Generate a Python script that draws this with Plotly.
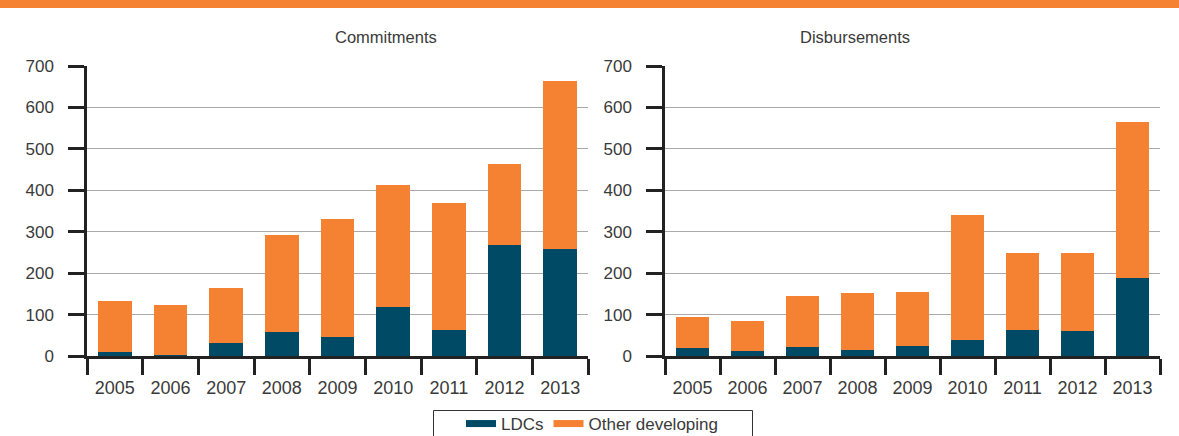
import plotly.graph_objects as go

years = ["2005", "2006", "2007", "2008", "2009", "2010", "2011", "2012", "2013"]

commit_total = [133, 124, 165, 291, 330, 412, 369, 463, 665]
commit_ldc = [10, 2, 31, 58, 46, 119, 63, 269, 259]

disb_total = [94, 85, 146, 153, 155, 340, 248, 248, 564]
disb_ldc = [19, 11, 21, 14, 24, 38, 63, 60, 189]

commit_other = [t - l for t, l in zip(commit_total, commit_ldc)]
disb_other = [t - l for t, l in zip(disb_total, disb_ldc)]

LDC_COLOR = "#004A65"
OTHER_COLOR = "#F58233"
TEXT = "#3a3a3a"
FONT = "Liberation Sans"

fig = go.Figure()

for xa, ya, ldc, other in [("x", "y", commit_ldc, commit_other), ("x2", "y2", disb_ldc, disb_other)]:
    fig.add_trace(go.Bar(x=years, y=ldc, marker=dict(color=LDC_COLOR, line=dict(width=0)),
                         xaxis=xa, yaxis=ya, showlegend=False, name="LDCs"))
    fig.add_trace(go.Bar(x=years, y=other, marker=dict(color=OTHER_COLOR, line=dict(width=0)),
                         xaxis=xa, yaxis=ya, showlegend=False, name="Other developing"))

# legend entries
fig.add_trace(go.Scatter(x=[None], y=[None], mode="lines", name="LDCs",
                         line=dict(color=LDC_COLOR, width=7), xaxis="x", yaxis="y"))
fig.add_trace(go.Scatter(x=[None], y=[None], mode="lines", name="Other developing",
                         line=dict(color=OTHER_COLOR, width=7), xaxis="x", yaxis="y"))

W, H = 1179, 436
y_dom = [(H - 356) / H, (H - 66) / H]

xaxis_common = dict(
    type="category", showline=True, linecolor="#222222", linewidth=2.5,
    ticks="outside", tickson="boundaries", ticklen=16, tickwidth=2.5, tickcolor="#222222",
    ticklabelstandoff=14,
    showgrid=False, tickfont=dict(family=FONT, size=18, color=TEXT), fixedrange=True,
)
yaxis_common = dict(
    range=[0, 700], tickvals=[0, 100, 200, 300, 400, 500, 600, 700],
    showline=True, linecolor="#222222", linewidth=2.5,
    ticks="outside", ticklen=16, tickwidth=3, tickcolor="#222222",
    ticklabelstandoff=11,
    showgrid=True, gridcolor="#aaaaaa", gridwidth=1, zeroline=False,
    tickfont=dict(family=FONT, size=17, color=TEXT), fixedrange=True,
)

fig.update_layout(
    width=W, height=H,
    margin=dict(l=0, r=0, t=0, b=0, autoexpand=False),
    paper_bgcolor="white", plot_bgcolor="white",
    barmode="stack", bargap=0.39,
    xaxis=dict(domain=[87 / W, 588 / W], anchor="y", **xaxis_common),
    yaxis=dict(domain=y_dom, anchor="x", **yaxis_common),
    xaxis2=dict(domain=[665 / W, 1160 / W], anchor="y2", **xaxis_common),
    yaxis2=dict(domain=y_dom, anchor="x2", **yaxis_common),
    legend=dict(orientation="h", x=592 / W, xanchor="center", y=(H - 424) / H, yanchor="middle",
                traceorder="normal", borderwidth=0, bgcolor="rgba(0,0,0,0)",
                font=dict(family=FONT, size=17, color=TEXT), itemwidth=30),
    shapes=[
        dict(type="rect", xref="paper", yref="paper", x0=0, x1=1, y0=1 - 8 / H, y1=1,
             fillcolor=OTHER_COLOR, line=dict(width=0)),
        dict(type="rect", xref="paper", yref="paper", x0=433.5 / W, x1=752.5 / W,
             y0=-10 / H, y1=(H - 410.5) / H, fillcolor="rgba(0,0,0,0)",
             line=dict(color="#333333", width=1)),
    ],
    annotations=[
        dict(text="Commitments", xref="paper", yref="paper", x=333 / W, y=(H - 37) / H,
             yanchor="middle", showarrow=False, font=dict(family=FONT, size=16.5, color=TEXT)),
        dict(text="Disbursements", xref="paper", yref="paper", x=912 / W, y=(H - 37) / H,
             yanchor="middle", showarrow=False, font=dict(family=FONT, size=16.5, color=TEXT)),
    ],
)

fig.write_html("out.html", config={"displayModeBar": False},
               post_script="document.body.style.margin='0';document.body.style.overflow='hidden';")
